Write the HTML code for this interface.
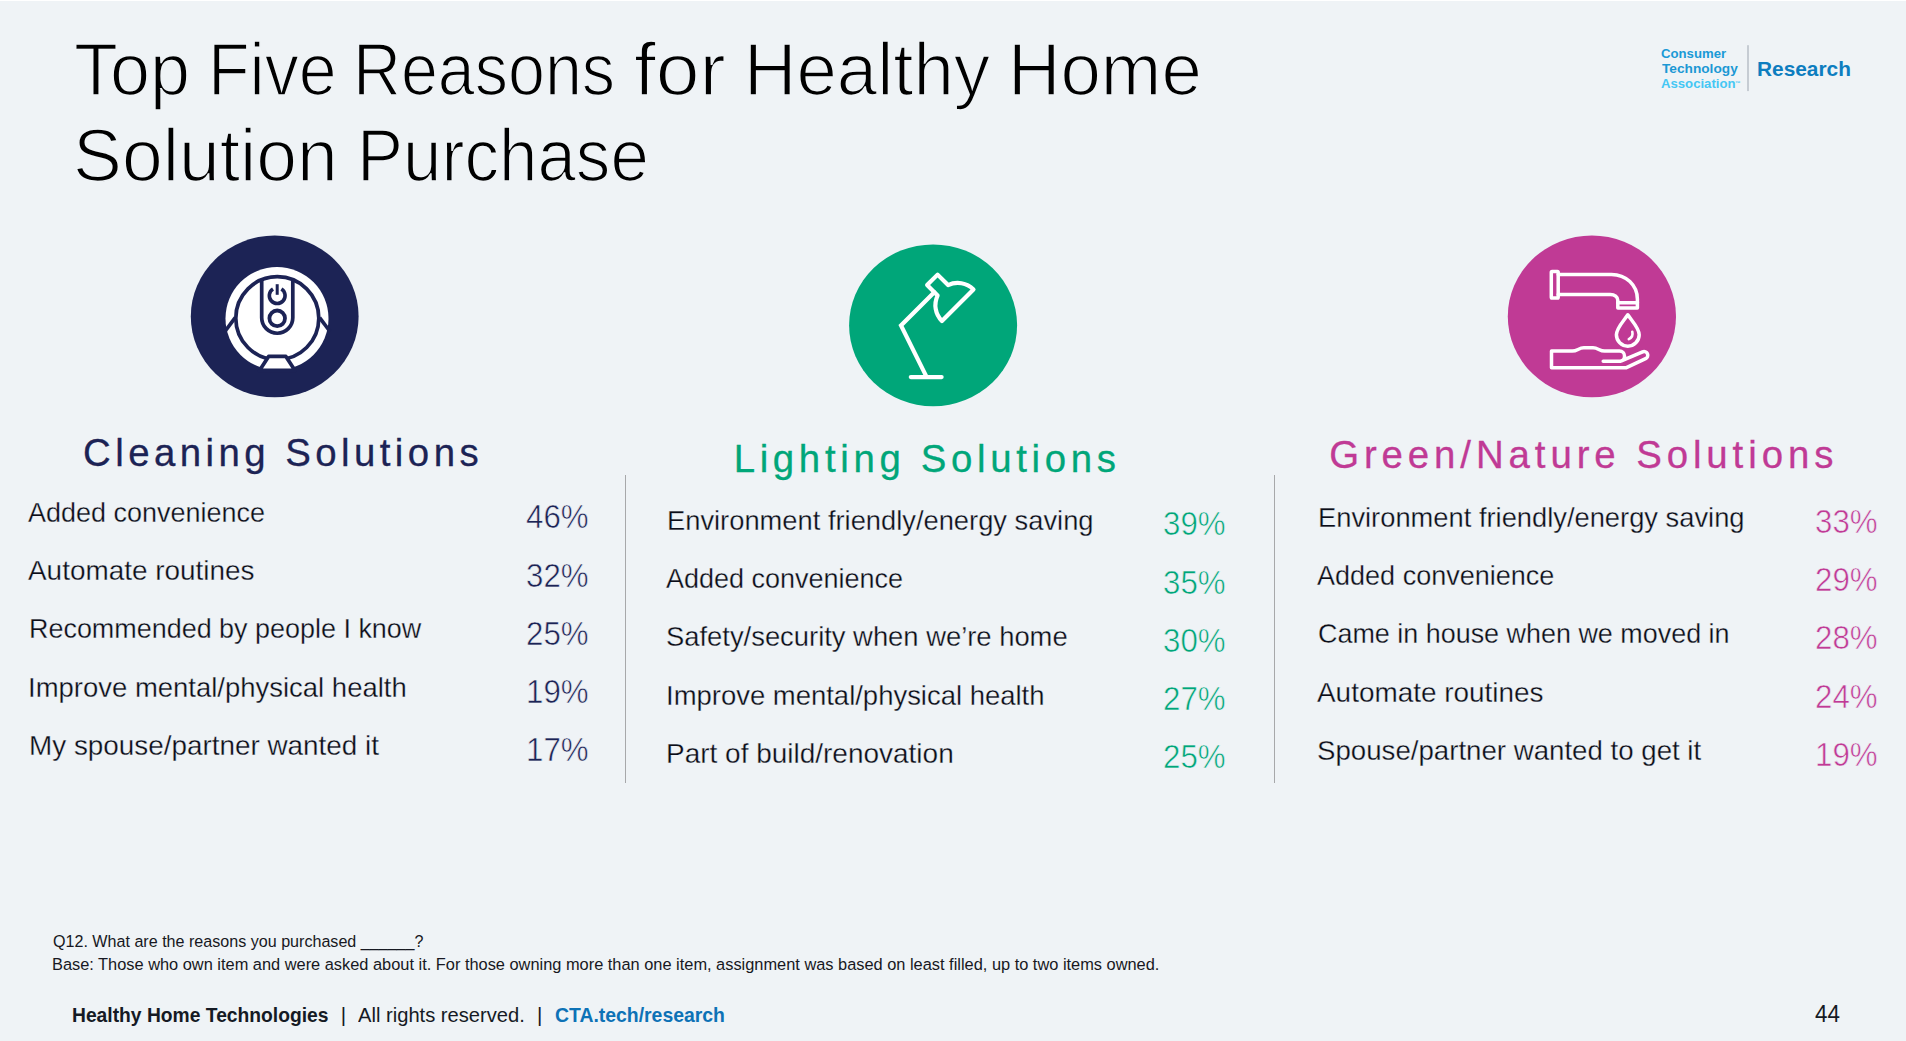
<!DOCTYPE html>
<html lang="en">
<head>
<meta charset="utf-8">
<title>Top Five Reasons for Healthy Home Solution Purchase</title>
<style>
html,body{margin:0;padding:0}
body{width:1906px;height:1041px;overflow:hidden;background:#eff3f6;font-family:"Liberation Sans",Arial,sans-serif;position:relative}
.slide{position:absolute;left:0;top:0;width:1906px;height:1041px;overflow:hidden;background:#eff3f6}
.art{position:absolute;left:0;top:0}
.w,header{position:static;display:block;margin:0;padding:0;border:0;list-style:none;font-size:0;line-height:0;font-weight:400}
.t{position:absolute;display:block;margin:0;padding:0;white-space:nowrap;line-height:1;transform-origin:0 0;font-weight:400}
a.t{text-decoration:none}

</style>
</head>
<body>
<main class="slide">
<svg class="art" width="1906" height="1041" viewBox="0 0 1906 1041" aria-hidden="true">
  <rect x="0" y="0" width="1906" height="1" fill="#fff"/>
  <!-- column dividers -->
  <rect x="625" y="475" width="1" height="308" fill="#a7a8aa"/>
  <rect x="1274" y="475" width="1" height="308" fill="#a7a8aa"/>
  <!-- logo separator -->
  <rect x="1747.2" y="45.2" width="1.6" height="45.9" fill="#bcc2ca"/>

  <!-- cleaning: robot vacuum -->
  <g>
    <ellipse cx="274.7" cy="316.4" rx="83.9" ry="80.9" fill="#1c2355"/>
    <circle cx="277" cy="318.5" r="51.5" fill="#fff"/>
    <g fill="none" stroke="#1c2355" stroke-width="3.7" stroke-linecap="butt" stroke-linejoin="round">
      <circle cx="277.3" cy="318.2" r="41.5"/>
      <path d="M261.7,279.4 V317.7 A15.55,15.55 0 0 0 292.8,317.7 V279.4"/>
      <circle cx="277.2" cy="318.3" r="7.8" stroke-width="3.8"/>
      <path d="M273,288.9 A7.9,7.9 0 1 0 281.4,288.9" stroke-width="3.6"/>
      <path d="M277.2,284.2 V294.8" stroke-width="3"/>
      <path d="M235.2,317.6 L224.5,332"/>
      <path d="M319.6,317.6 L330,331.5"/>
      <path d="M268.6,356.4 H285.9 L295,370.4 H259.5 Z" fill="#fff"/>
    </g>
  </g>

  <!-- lighting: desk lamp -->
  <g>
    <ellipse cx="933.1" cy="325.3" rx="84" ry="80.9" fill="#00a679"/>
    <g fill="none" stroke="#fff" stroke-width="4.2" stroke-linecap="round" stroke-linejoin="round">
      <path d="M910.8,377.1 H941.6"/>
      <path d="M926.2,376.1 L901,325.5 L934.3,292.2" stroke-linejoin="miter"/>
      <path d="M937.59,295.55 L927.12,285.08 L937.58,274.62 L948.05,285.09 A22.3,22.3 0 0 1 973.47,289.43 L941.93,320.97 A22.3,22.3 0 0 1 937.59,295.55 Z"/>
    </g>
  </g>

  <!-- green/nature: tap and hand -->
  <g>
    <ellipse cx="1591.9" cy="316.4" rx="84.1" ry="80.9" fill="#c03a95"/>
    <g fill="none" stroke="#fff" stroke-width="3.5" stroke-linecap="round" stroke-linejoin="round">
      <rect x="1551.3" y="271.6" width="6.9" height="26.4" rx="0.8"/>
      <path d="M1558.2,274.4 H1611.5 C1626,274.4 1637.4,285.2 1637.4,299.2 V308.1 H1617.8 V300.3 C1617.8,297 1614.6,294.4 1610.3,294.4 H1558.2"/>
      <path d="M1617.8,302.7 H1637.4"/>
      <path d="M1627.8,314.8 C1624,320.5 1616.4,328 1616.4,334.8 A11.4,11.4 0 0 0 1639.2,334.8 C1639.2,328 1631.6,320.5 1627.8,314.8 Z"/>
      <path d="M1632.3,331.8 A6.5,6.5 0 0 1 1628.8,339.2" stroke-width="2.6"/>
      <path d="M1603.2,361.2 H1619.5 A5.05,5.05 0 0 0 1619.5,351.1 H1604.6 C1599.6,351.1 1598,347.8 1593,347.8 H1583.8 C1578.8,347.8 1577.3,351.1 1572.3,351.1 H1551.5 V367.8 H1625.9 L1645.6,358.6 A3.65,3.65 0 0 0 1642.6,351.9 L1620.8,361.2"/>
    </g>
  </g>
</svg>

<header>
<h1 class="w"><span class="t" id="t10" style="left:74.27px;top:32.96px;font-size:74.5px;color:#000;transform:scaleX(0.9659);-webkit-text-stroke:1.7px #eff3f6;">Top</span> <span class="t" id="t11" style="left:207.56px;top:32.96px;font-size:74.5px;color:#000;transform:scaleX(0.9140);-webkit-text-stroke:1.7px #eff3f6;">Five</span> <span class="t" id="t12" style="left:353.40px;top:32.96px;font-size:74.5px;color:#000;transform:scaleX(0.8912);-webkit-text-stroke:1.7px #eff3f6;">Reasons</span> <span class="t" id="t13" style="left:634.12px;top:32.96px;font-size:74.5px;color:#000;transform:scaleX(1.0561);-webkit-text-stroke:1.7px #eff3f6;">for</span> <span class="t" id="t14" style="left:743.69px;top:32.96px;font-size:74.5px;color:#000;transform:scaleX(0.9744);-webkit-text-stroke:1.7px #eff3f6;">Healthy</span> <span class="t" id="t15" style="left:1007.69px;top:32.96px;font-size:74.5px;color:#000;transform:scaleX(0.9751);-webkit-text-stroke:1.7px #eff3f6;">Home</span> <span class="t" id="t20" style="left:73.30px;top:119.35px;font-size:74.5px;color:#000;transform:scaleX(0.9836);-webkit-text-stroke:1.7px #eff3f6;">Solution</span> <span class="t" id="t21" style="left:356.59px;top:119.35px;font-size:74.5px;color:#000;transform:scaleX(0.9271);-webkit-text-stroke:1.7px #eff3f6;">Purchase</span></h1>
<div class="w brand"><span class="t" id="lg1" style="left:1660.93px;top:47.41px;font-size:13.7px;color:#1a9ad6;font-weight:700;transform:scaleX(0.9616);">Consumer</span><span class="t" id="lg2" style="left:1661.85px;top:62.21px;font-size:13.7px;color:#1c98d4;font-weight:700;transform:scaleX(0.9993);">Technology</span><span class="t" id="lg3" style="left:1660.79px;top:77.41px;font-size:13.7px;color:#45c7f4;font-weight:700;transform:scaleX(0.9601);">Association</span><span class="t" id="tm" style="left:1735.01px;top:80.70px;font-size:5.5px;color:#45c7f4;font-weight:700;">™</span><span class="t" id="lg4" style="left:1756.61px;top:58.70px;font-size:20.6px;color:#0d7dbf;font-weight:700;transform:scaleX(1.0123);">Research</span></div>
</header>
<section class="w col cleaning">
<h2 class="w"><span class="t" id="h1" style="left:83.03px;top:434.31px;font-size:38.4px;color:#1c2355;letter-spacing:4.439px;-webkit-text-stroke:0.3px #1c2355;">Cleaning Solutions</span></h2>
<ul class="w">
<li class="w"><span class="t" id="r11" style="left:28.27px;top:498.07px;font-size:28.3px;color:#0b0d18;transform:scaleX(0.9534);-webkit-text-stroke:0.3px #eff3f6;">Added convenience</span><span class="t" id="p11" style="left:526.00px;top:500.32px;font-size:33.8px;color:#1c2355;transform:scaleX(0.9250);-webkit-text-stroke:0.6px #eff3f6;">46%</span></li>
<li class="w"><span class="t" id="r12" style="left:28.25px;top:556.26px;font-size:28.3px;color:#0b0d18;transform:scaleX(0.9865);-webkit-text-stroke:0.3px #eff3f6;">Automate routines</span><span class="t" id="p12" style="left:526.00px;top:558.51px;font-size:33.8px;color:#1c2355;transform:scaleX(0.9250);-webkit-text-stroke:0.6px #eff3f6;">32%</span></li>
<li class="w"><span class="t" id="r13" style="left:28.94px;top:614.46px;font-size:28.3px;color:#0b0d18;transform:scaleX(0.9518);-webkit-text-stroke:0.3px #eff3f6;">Recommended by people I know</span><span class="t" id="p13" style="left:526.00px;top:616.71px;font-size:33.8px;color:#1c2355;transform:scaleX(0.9250);-webkit-text-stroke:0.6px #eff3f6;">25%</span></li>
<li class="w"><span class="t" id="r14" style="left:28.39px;top:672.66px;font-size:28.3px;color:#0b0d18;transform:scaleX(0.9709);-webkit-text-stroke:0.3px #eff3f6;">Improve mental/physical health</span><span class="t" id="p14" style="left:526.00px;top:674.91px;font-size:33.8px;color:#1c2355;transform:scaleX(0.9250);-webkit-text-stroke:0.6px #eff3f6;">19%</span></li>
<li class="w"><span class="t" id="r15" style="left:28.65px;top:730.85px;font-size:28.3px;color:#0b0d18;transform:scaleX(0.9845);-webkit-text-stroke:0.3px #eff3f6;">My spouse/partner wanted it</span><span class="t" id="p15" style="left:526.00px;top:733.10px;font-size:33.8px;color:#1c2355;transform:scaleX(0.9250);-webkit-text-stroke:0.6px #eff3f6;">17%</span></li>
</ul>
</section>
<section class="w col lighting">
<h2 class="w"><span class="t" id="h2" style="left:733.66px;top:440.21px;font-size:38.4px;color:#00a679;letter-spacing:4.662px;-webkit-text-stroke:0.3px #00a679;">Lighting Solutions</span></h2>
<ul class="w">
<li class="w"><span class="t" id="r21" style="left:666.51px;top:506.07px;font-size:28.3px;color:#0b0d18;transform:scaleX(0.9650);-webkit-text-stroke:0.3px #eff3f6;">Environment friendly/energy saving</span><span class="t" id="p21" style="left:1163.00px;top:507.32px;font-size:33.8px;color:#00a679;transform:scaleX(0.9250);-webkit-text-stroke:0.6px #eff3f6;">39%</span></li>
<li class="w"><span class="t" id="r22" style="left:665.83px;top:564.26px;font-size:28.3px;color:#0b0d18;transform:scaleX(0.9538);-webkit-text-stroke:0.3px #eff3f6;">Added convenience</span><span class="t" id="p22" style="left:1163.00px;top:565.51px;font-size:33.8px;color:#00a679;transform:scaleX(0.9250);-webkit-text-stroke:0.6px #eff3f6;">35%</span></li>
<li class="w"><span class="t" id="r23" style="left:666.46px;top:622.46px;font-size:28.3px;color:#0b0d18;transform:scaleX(0.9673);-webkit-text-stroke:0.3px #eff3f6;">Safety/security when we’re home</span><span class="t" id="p23" style="left:1163.00px;top:623.71px;font-size:33.8px;color:#00a679;transform:scaleX(0.9250);-webkit-text-stroke:0.6px #eff3f6;">30%</span></li>
<li class="w"><span class="t" id="r24" style="left:666.09px;top:680.66px;font-size:28.3px;color:#0b0d18;transform:scaleX(0.9704);-webkit-text-stroke:0.3px #eff3f6;">Improve mental/physical health</span><span class="t" id="p24" style="left:1163.00px;top:681.91px;font-size:33.8px;color:#00a679;transform:scaleX(0.9250);-webkit-text-stroke:0.6px #eff3f6;">27%</span></li>
<li class="w"><span class="t" id="r25" style="left:666.33px;top:738.85px;font-size:28.3px;color:#0b0d18;transform:scaleX(0.9886);-webkit-text-stroke:0.3px #eff3f6;">Part of build/renovation</span><span class="t" id="p25" style="left:1163.00px;top:740.10px;font-size:33.8px;color:#00a679;transform:scaleX(0.9250);-webkit-text-stroke:0.6px #eff3f6;">25%</span></li>
</ul>
</section>
<section class="w col green-nature">
<h2 class="w"><span class="t" id="h3" style="left:1329.13px;top:436.31px;font-size:38.4px;color:#c03a95;letter-spacing:4.906px;-webkit-text-stroke:0.3px #c03a95;">Green/Nature Solutions</span></h2>
<ul class="w">
<li class="w"><span class="t" id="r31" style="left:1317.51px;top:503.07px;font-size:28.3px;color:#0b0d18;transform:scaleX(0.9650);-webkit-text-stroke:0.3px #eff3f6;">Environment friendly/energy saving</span><span class="t" id="p31" style="left:1815.40px;top:504.91px;font-size:33.8px;color:#c03a95;transform:scaleX(0.9250);-webkit-text-stroke:0.6px #eff3f6;">33%</span></li>
<li class="w"><span class="t" id="r32" style="left:1316.83px;top:561.26px;font-size:28.3px;color:#0b0d18;transform:scaleX(0.9548);-webkit-text-stroke:0.3px #eff3f6;">Added convenience</span><span class="t" id="p32" style="left:1815.40px;top:563.10px;font-size:33.8px;color:#c03a95;transform:scaleX(0.9250);-webkit-text-stroke:0.6px #eff3f6;">29%</span></li>
<li class="w"><span class="t" id="r33" style="left:1317.99px;top:619.46px;font-size:28.3px;color:#0b0d18;transform:scaleX(0.9515);-webkit-text-stroke:0.3px #eff3f6;">Came in house when we moved in</span><span class="t" id="p33" style="left:1815.40px;top:621.32px;font-size:33.8px;color:#c03a95;transform:scaleX(0.9250);-webkit-text-stroke:0.6px #eff3f6;">28%</span></li>
<li class="w"><span class="t" id="r34" style="left:1316.82px;top:677.66px;font-size:28.3px;color:#0b0d18;transform:scaleX(0.9865);-webkit-text-stroke:0.3px #eff3f6;">Automate routines</span><span class="t" id="p34" style="left:1815.40px;top:679.51px;font-size:33.8px;color:#c03a95;transform:scaleX(0.9250);-webkit-text-stroke:0.6px #eff3f6;">24%</span></li>
<li class="w"><span class="t" id="r35" style="left:1317.38px;top:735.85px;font-size:28.3px;color:#0b0d18;transform:scaleX(0.9769);-webkit-text-stroke:0.3px #eff3f6;">Spouse/partner wanted to get it</span><span class="t" id="p35" style="left:1815.40px;top:737.71px;font-size:33.8px;color:#c03a95;transform:scaleX(0.9250);-webkit-text-stroke:0.6px #eff3f6;">19%</span></li>
</ul>
</section>
<aside class="w notes"><span class="t" id="fn1" style="left:52.84px;top:933.70px;font-size:16.9px;color:#171822;transform:scaleX(0.9529);">Q12. What are the reasons you purchased ______?</span>
<span class="t" id="fn2" style="left:52.39px;top:956.70px;font-size:16.9px;color:#171822;transform:scaleX(0.9694);">Base: Those who own item and were asked about it. For those owning more than one item, assignment was based on least filled, up to two items owned.</span></aside>
<footer class="w"><span class="t" id="f1" style="left:72.09px;top:1005.31px;font-size:20.5px;color:#151a24;font-weight:700;transform:scaleX(0.9396);">Healthy Home Technologies</span>
<span class="t" id="f2" style="left:340.73px;top:1005.31px;font-size:20.5px;color:#151a24;">|</span>
<span class="t" id="f3" style="left:357.92px;top:1005.31px;font-size:20.5px;color:#151a24;transform:scaleX(0.9828);">All rights reserved.</span>
<span class="t" id="f4" style="left:536.96px;top:1005.31px;font-size:20.5px;color:#151a24;">|</span>
<span class="t" id="f5" style="left:554.96px;top:1005.31px;font-size:20.5px;color:#0d72b6;font-weight:700;transform:scaleX(0.9460);">CTA.tech/research</span>
<span class="t" id="pg" style="left:1814.69px;top:1003.41px;font-size:23px;color:#151a24;transform:scaleX(0.9727);">44</span></footer>
</main>
</body>
</html>
